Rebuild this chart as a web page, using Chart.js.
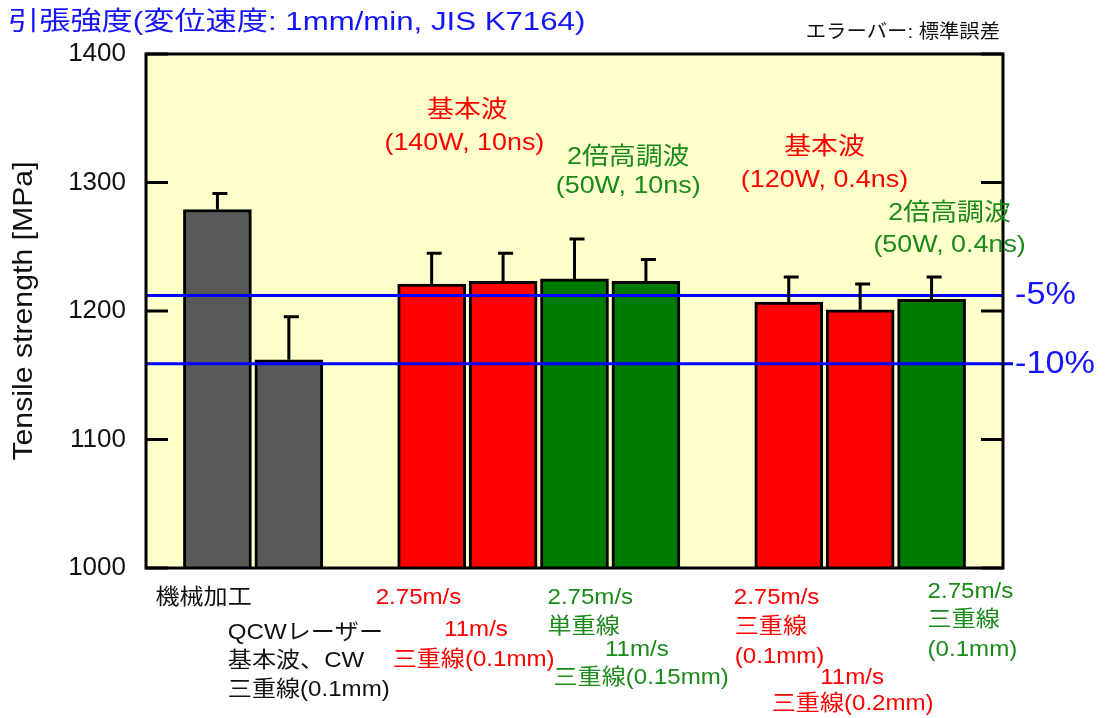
<!DOCTYPE html>
<html>
<head>
<meta charset="utf-8">
<script src="https://cdn.jsdelivr.net/npm/chart.js@4"></script>
<style>
  html, body { margin: 0; padding: 0; background: #fff; }
  #wrap { width: 1105px; height: 718px; }
</style>
</head>
<body>
<div id="wrap"><canvas id="tensileChart" width="1105" height="718"></canvas></div>
<script>
// slots on the x axis (empty strings are gaps between groups)
const categories = ["", "機械加工", "QCWレーザー CW", "", "基本波10ns 2.75m/s", "基本波10ns 11m/s", "2倍高調波10ns 2.75m/s", "2倍高調波10ns 11m/s", "", "基本波0.4ns 2.75m/s", "基本波0.4ns 11m/s", "2倍高調波0.4ns 2.75m/s", ""];
const strength = [null, 1279, 1162, null, 1221, 1223, 1225, 1223, null, 1207, 1201, 1209, null];
const stdError = [null, 12.5, 33.5, null, 24, 22, 31, 17, null, 19.5, 20, 17.5, null];
const barKind = [null, "mech", "mech", null, "fund", "fund", "shg", "shg", null, "fund", "fund", "shg", null];
const yTicks = [1000, 1100, 1200, 1300, 1400];
const refLines = [1212, 1159];
const refLabels = ["-5%", "-10%"];

const FONT = '"Liberation Sans", "Noto Sans CJK JP", sans-serif';
const RED = "#ff0000";
const GREEN = "#1a8a1a";
const BAR_GREEN = "#007a00";
const BLUE = "#1414ff";
const kindColor = { mech: "#595959", fund: "#ff0000", shg: BAR_GREEN };

Chart.defaults.font.family = FONT;

function txt(ctx, s, x, y, size, color, align, sx) {
    ctx.save();
    ctx.font = size + "px " + FONT;
    ctx.fillStyle = color;
    ctx.textBaseline = "middle";
    ctx.textAlign = align || "left";
    ctx.translate(x, y);
    ctx.scale(sx || 1, 1);
    ctx.fillText(s, 0, 0);
    ctx.restore();
}

const framePlugin = {
    id: "frame",
    beforeDatasetsDraw(chart) {
        const { ctx, chartArea: a } = chart;
        ctx.save();
        ctx.fillStyle = "#ffffcc";
        ctx.fillRect(a.left, a.top, a.right - a.left, a.bottom - a.top);
        ctx.restore();
    },
    afterDatasetsDraw(chart) {
        const { ctx, chartArea: a, scales } = chart;
        const y = scales.y, x = scales.x;
        ctx.save();
        // reference lines
        ctx.strokeStyle = "#0000ff";
        ctx.lineWidth = 3;
        refLines.forEach((v, i) => {
            const py = y.getPixelForValue(v);
            ctx.beginPath();
            ctx.moveTo(a.left, py);
            ctx.lineTo(a.right + (i == 1 ? 10 : 0), py);
            ctx.stroke();
            txt(ctx, refLabels[i], a.right + 12, py, 32, BLUE, "left", 1.07);
        });
        // error bars (upper only)
        ctx.strokeStyle = "#000";
        ctx.lineWidth = 3;
        strength.forEach((v, i) => {
            if (v == null) return;
            const px = x.getPixelForValue(i);
            const top = y.getPixelForValue(v);
            const err = y.getPixelForValue(v + stdError[i]);
            ctx.beginPath();
            ctx.moveTo(px, top);
            ctx.lineTo(px, err);
            ctx.moveTo(px - 5, err);
            ctx.lineTo(px + 10, err);
            ctx.stroke();
        });
        // frame + inward ticks
        ctx.lineWidth = 3;
        ctx.strokeRect(a.left, a.top, a.right - a.left, a.bottom - a.top);
        yTicks.forEach(v => {
            const py = y.getPixelForValue(v);
            ctx.beginPath();
            ctx.moveTo(a.left, py);
            ctx.lineTo(a.left + 22, py);
            ctx.moveTo(a.right, py);
            ctx.lineTo(a.right - 22, py);
            ctx.stroke();
        });
        ctx.restore();
    },
    afterDraw(chart) {
        const { ctx, chartArea: a, scales } = chart;
        const x = scales.x;
        const cx = i => x.getPixelForValue(i);
        const b = a.bottom;
        const S = 21.5, SX = 1.12;
        // headings
        txt(ctx, "引張強度(変位速度: 1mm/min, JIS K7164)", 8, 23, 26, BLUE, "left", 1.2);
        txt(ctx, "エラーバー: 標準誤差", 1000, 33, 19, "#111", "right", 1.07);
        // y axis title
        ctx.save();
        ctx.translate(24, (a.top + a.bottom) / 2);
        ctx.rotate(-Math.PI / 2);
        txt(ctx, "Tensile strength [MPa]", 0, 0, 28, "#111", "center", 1.08);
        ctx.restore();
        // group headings inside plot
        txt(ctx, "基本波", (cx(4) + cx(5)) / 2, 110, 24, RED, "center", 1.12);
        txt(ctx, "(140W, 10ns)", (cx(4) + cx(5)) / 2 - 3, 143, 24, RED, "center", 1.12);
        txt(ctx, "2倍高調波", (cx(6) + cx(7)) / 2 + 18, 157, 24, GREEN, "center", 1.12);
        txt(ctx, "(50W, 10ns)", (cx(6) + cx(7)) / 2 + 18, 186, 24, GREEN, "center", 1.12);
        txt(ctx, "基本波", (cx(9) + cx(10)) / 2, 147, 24, RED, "center", 1.12);
        txt(ctx, "(120W, 0.4ns)", (cx(9) + cx(10)) / 2, 180, 24, RED, "center", 1.12);
        txt(ctx, "2倍高調波", cx(11) + 18, 213, 24, GREEN, "center", 1.12);
        txt(ctx, "(50W, 0.4ns)", cx(11) + 18, 245, 24, GREEN, "center", 1.12);
        // x labels under bars
        txt(ctx, "機械加工", cx(1) - 62, b + 30, S, "#111", "left", SX);
        txt(ctx, "QCWレーザー", cx(2) - 61, b + 65, S, "#111", "left", SX);
        txt(ctx, "基本波、CW", cx(2) - 61, b + 93, S, "#111", "left", SX);
        txt(ctx, "三重線(0.1mm)", cx(2) - 61, b + 122, S, "#111", "left", SX);

        txt(ctx, "2.75m/s", cx(4) - 56, b + 30, S, RED, "left", SX);
        txt(ctx, "11m/s", cx(5) - 59, b + 62, S, RED, "left", SX);
        txt(ctx, "三重線(0.1mm)", cx(4) - 39, b + 92, S, RED, "left", SX);

        txt(ctx, "2.75m/s", cx(6) - 27, b + 30, S, GREEN, "left", SX);
        txt(ctx, "単重線", cx(6) - 27, b + 59, S, GREEN, "left", SX);
        txt(ctx, "11m/s", cx(7) - 41, b + 82, S, GREEN, "left", SX);
        txt(ctx, "三重線(0.15mm)", cx(6) - 21, b + 110, S, GREEN, "left", SX);

        txt(ctx, "2.75m/s", cx(9) - 55, b + 30, S, RED, "left", SX);
        txt(ctx, "三重線", cx(9) - 54, b + 59, S, RED, "left", SX);
        txt(ctx, "(0.1mm)", cx(9) - 54, b + 89, S, RED, "left", SX);
        txt(ctx, "11m/s", cx(10) - 40, b + 110, S, RED, "left", SX);
        txt(ctx, "三重線(0.2mm)", cx(9) - 17, b + 136, S, RED, "left", SX);

        txt(ctx, "2.75m/s", cx(11) - 4, b + 24, S, GREEN, "left", SX);
        txt(ctx, "三重線", cx(11) - 4, b + 52, S, GREEN, "left", SX);
        txt(ctx, "(0.1mm)", cx(11) - 4, b + 82, S, GREEN, "left", SX);
    }
};

new Chart(document.getElementById("tensileChart"), {
    type: "bar",
    data: {
        labels: categories,
        datasets: [{
            data: strength,
            backgroundColor: categories.map((c, i) => barKind[i] ? kindColor[barKind[i]] : "transparent"),
            borderColor: "#000",
            borderWidth: 3,
            borderSkipped: false,
            barThickness: 68
        }]
    },
    options: {
        responsive: false,
        animation: false,
        events: [],
        layout: { padding: { left: 0, top: 54, right: 102, bottom: 150 } },
        plugins: { legend: { display: false }, tooltip: { enabled: false } },
        scales: {
            x: {
                type: "category",
                offset: false,
                grid: { display: false, offset: false },
                border: { display: false },
                ticks: { display: false },
                afterFit(s) { s.height = 0; }
            },
            y: {
                min: 1000,
                max: 1400,
                afterBuildTicks(s) { s.ticks = yTicks.map(v => ({ value: v })); },
                grid: { display: false },
                border: { display: false },
                ticks: {
                    color: "#111",
                    font: { size: 26 },
                    padding: 12,
                    callback: v => String(v)
                },
                afterFit(s) { s.width = 146; }
            }
        }
    },
    plugins: [framePlugin]
});
</script>
</body>
</html>
